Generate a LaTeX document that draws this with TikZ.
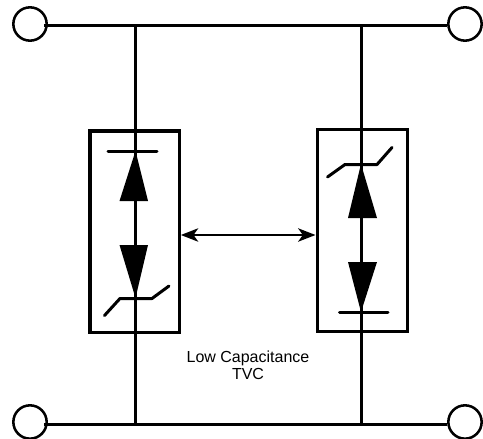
\documentclass[tikz,border=0pt]{standalone}
\usepackage{fontspec}
\setmainfont{Liberation Sans}
\usetikzlibrary{arrows.meta,calc}

\begin{document}
\begin{tikzpicture}[x=0.75pt,y=-0.75pt,
    wire/.style={line width=2.25pt},
    term/.style={shape=circle, draw, line width=1.9pt, minimum size=25pt, inner sep=0pt},
    tvc/.style={shape=rectangle, draw, inner sep=0pt},
    tri/.style={fill=black, draw=none},
    sym/.style={line width=2.25pt, line cap=round, line join=round},]
    \useasboundingbox (0,0) rectangle (483,439);
    \node [tvc, line width=2.5pt, minimum width=67pt, minimum height=151pt] (lbox) at (134.5,231.5) {};
    \node [tvc, line width=2.25pt, minimum width=67.5pt, minimum height=151pt] (rbox) at (362,230.5) {};
    \node [term] (tl) at (30,24) {};
    \node [term] (tr) at (465,24) {};
    \node [term] (bl) at (30,422) {};
    \node [term] (br) at (465,422) {};
    \coordinate (ta) at (135.5,25);
    \coordinate (tb) at (361,25);
    \coordinate (ba) at (135.5,424);
    \coordinate (bb) at (361,424);
    % buses
    \draw [wire, shorten <=-3pt] (tl.east |- ta) -- (tr.west |- ta);
    \draw [wire, shorten <=-3pt] (bl.east |- ba) -- (br.west |- ba);
    \draw [wire] (ta) -- (ba);
    \draw [wire] (tb) -- (bb);
    % left device
    \draw [sym] (108,151.5) -- (157,151.5);
    \fill [tri] (135.5,151) -- (148,201) -- (119.5,201) -- cycle;
    \fill [tri] (135.5,298) -- (148,245) -- (119.5,245) -- cycle;
    \draw [sym] (104.5,315.5) -- (120,298.5) -- (152,298.5) -- (169,286);
    % right device
    \draw [sym] (339.5,312.5) -- (388,312.5);
    \fill [tri] (361,312) -- (377,262) -- (348,262) -- cycle;
    \fill [tri] (361,164) -- (377,218) -- (348,218) -- cycle;
    \draw [sym] (327.5,177) -- (345,164.5) -- (377,164.5) -- (392,147.5);
    \draw [line width=1.7pt, <->, >={Stealth[length=13pt,width=10pt,inset=3.5pt]}] (lbox.east |- 0,235) -- (rbox.west |- 0,235);
    \node [align=center, font=\fontsize{12pt}{12.8pt}\selectfont] (lab) at (248,365.5) {Low Capacitance\\TVC};
  \end{tikzpicture}
\end{document}
